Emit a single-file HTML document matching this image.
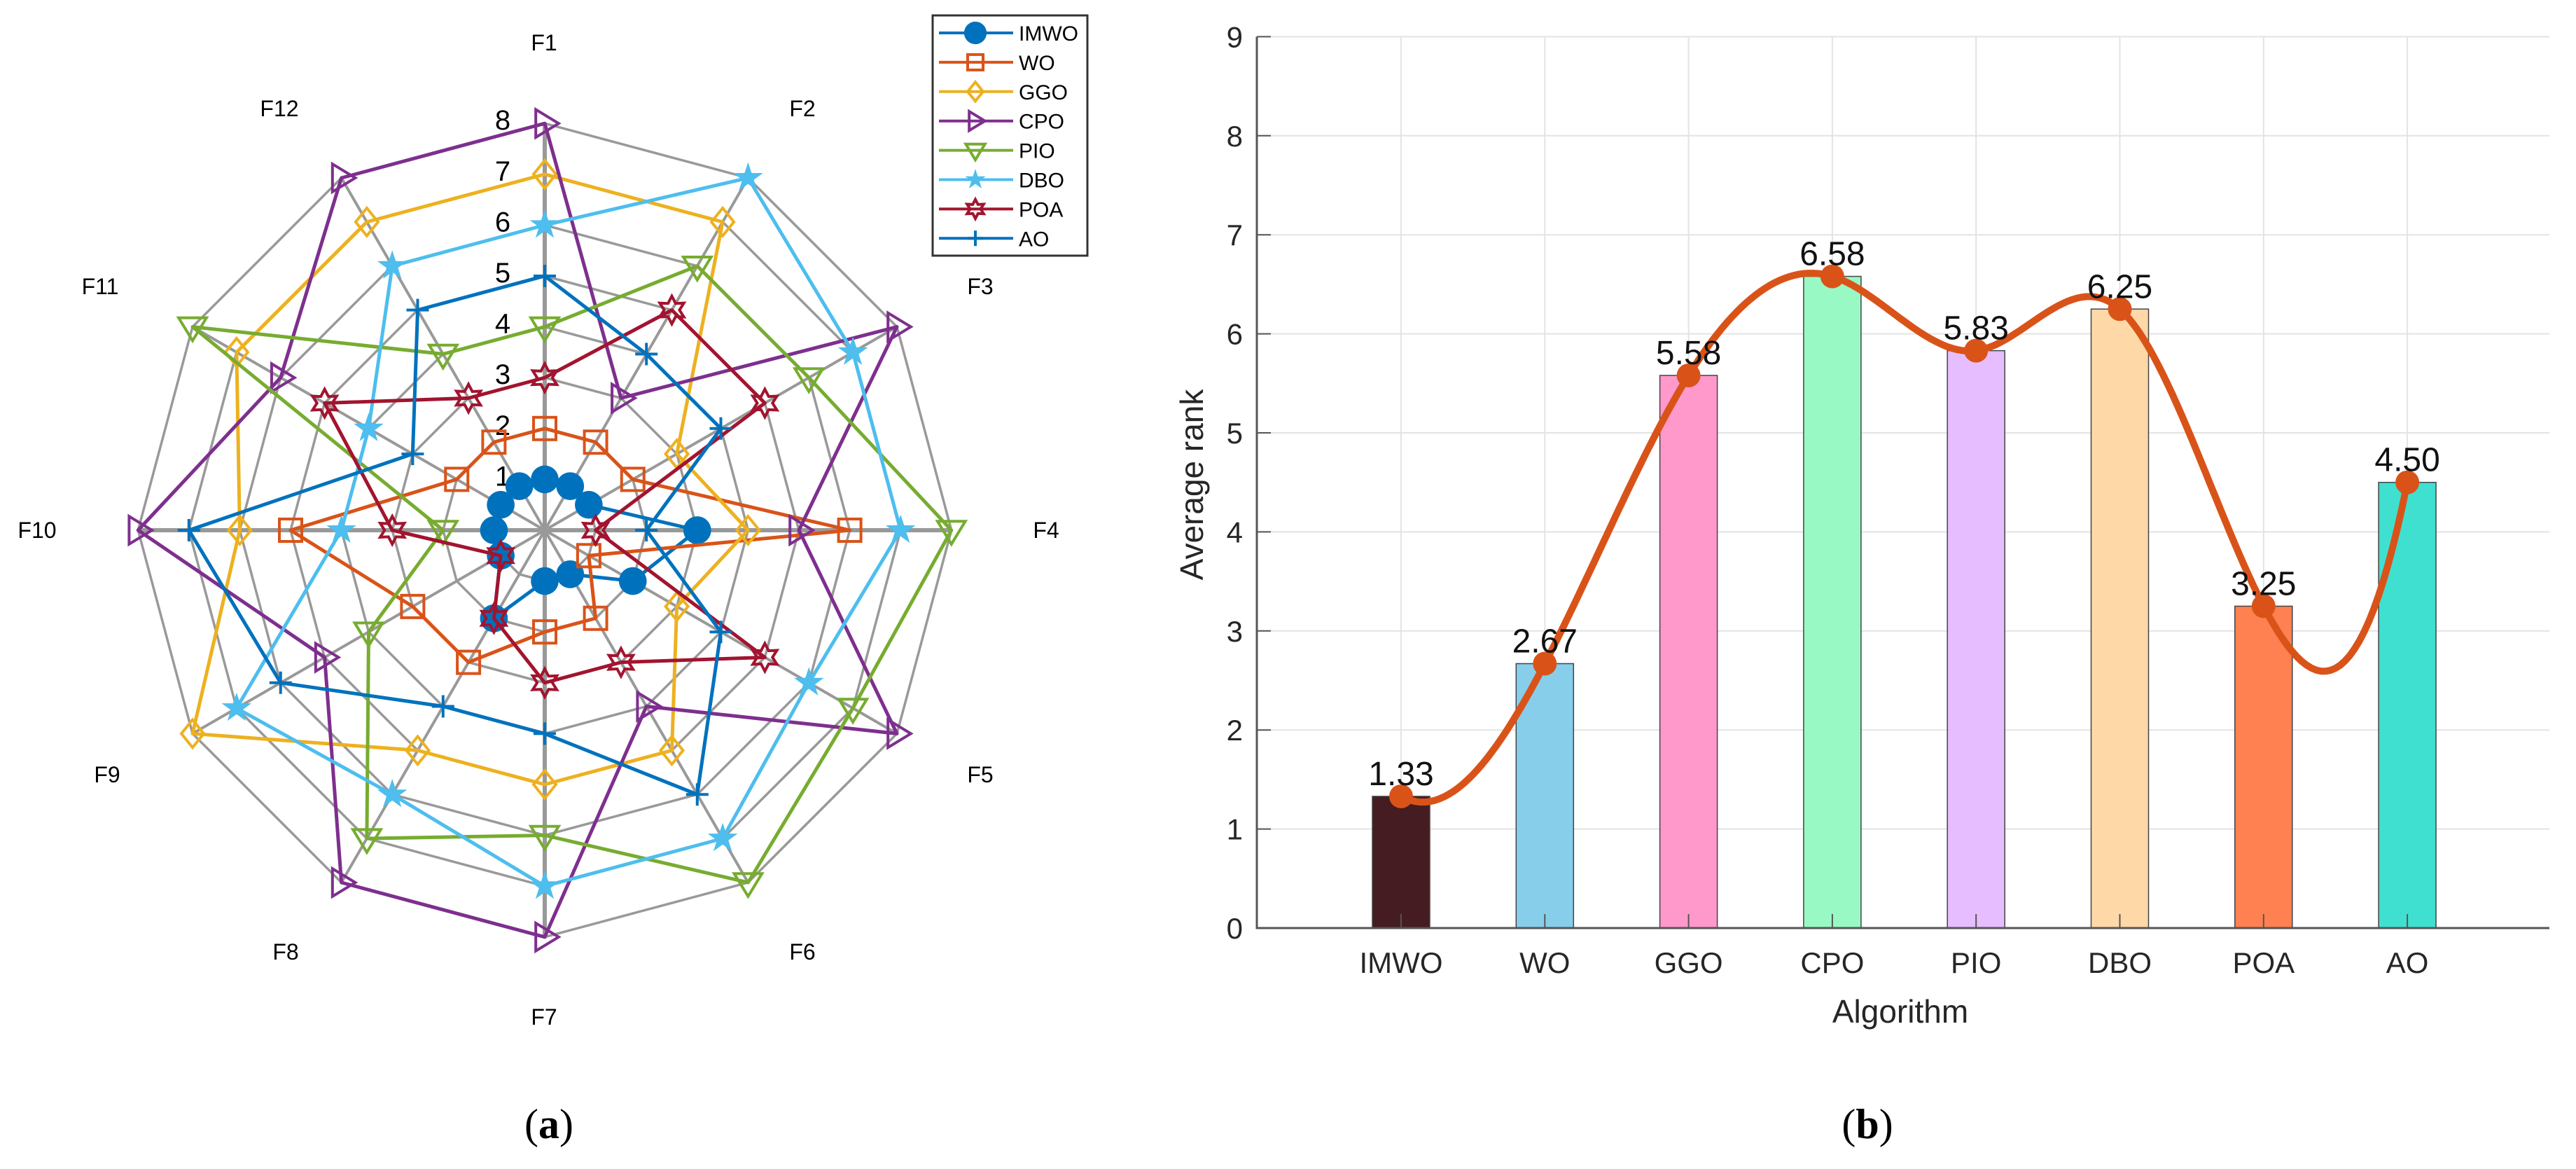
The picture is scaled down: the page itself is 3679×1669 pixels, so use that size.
<!DOCTYPE html>
<html><head><meta charset="utf-8"><style>
html,body{margin:0;padding:0;background:#fff;}
svg{display:block;font-family:"Liberation Sans",Arial,sans-serif;}
</style></head><body>
<svg id="fig" width="3679" height="1669" viewBox="0 0 3679 1669" xmlns="http://www.w3.org/2000/svg">
<g id="radar"></g>
<g id="bars"></g>
<text x="784" y="1625" font-family="Liberation Serif,serif" font-size="60" text-anchor="middle">(<tspan font-weight="bold">a</tspan>)</text>
<text x="2667" y="1625" font-family="Liberation Serif,serif" font-size="60" text-anchor="middle">(<tspan font-weight="bold">b</tspan>)</text>
</svg>
<script>
// ---- radar data ----
const funcs = ["F1","F2","F3","F4","F5","F6","F7","F8","F9","F10","F11","F12"];
const algNames = ["IMWO","WO","GGO","CPO","PIO","DBO","POA","AO"];
const rIMWO = [1,1,1,3,2,1,1,2,1,1,1,1];
const rWO   = [2,2,2,6,1,2,2,3,3,5,2,2];
const rGGO  = [7,7,3,4,3,5,5,5,8,6,7,7];
const rCPO  = [8,3,8,5,8,4,8,8,5,8,6,8];
const rPIO  = [4,6,6,8,7,8,6,7,4,2,8,4];
const rDBO  = [6,8,7,7,6,7,7,6,7,4,4,6];
const rPOA  = [3,5,5,1,5,3,3,2,1,3,5,3];
const rAO   = [5,4,4,2,4,6,4,4,6,7,3,5];
const ringTicks = ["1","2","3","4","5","6","7","8"];
// ---- bar data ----
const barCats = ["IMWO","WO","GGO","CPO","PIO","DBO","POA","AO"];
const barVals = [1.33,2.67,5.58,6.58,5.83,6.25,3.25,4.50];
const barLabels = ["1.33","2.67","5.58","6.58","5.83","6.25","3.25","4.50"];
const yTicks = [0,1,2,3,4,5,6,7,8,9];

const NS="http://www.w3.org/2000/svg";
function mk(parent,tag,attrs){const e=document.createElementNS(NS,tag);for(const k in attrs)e.setAttribute(k,attrs[k]);parent.appendChild(e);return e;}

// ===== RADAR =====
const radar=document.getElementById('radar');
const cx=778, cy=757, unit=72.6;
function pt(i,v){const a=i*Math.PI/6;return [cx+Math.sin(a)*v*unit, cy-Math.cos(a)*v*unit];}
const grid=mk(radar,'g',{});


for(let r=1;r<=8;r++){
  const p=funcs.map((f,i)=>pt(i,r).join(',')).join(' ');
  const ring=mk(grid,'polygon',{points:p,fill:'none',stroke:'#999',"stroke-width":3.5});
  
  
}
funcs.forEach((f,i)=>{
  const e=pt(i,8);
  const sp=mk(grid,'line',{x1:cx,y1:cy,x2:e[0],y2:e[1],stroke:'#999',"stroke-width":(i%3===0)?6:4});
  
  
});
const labPos=[[777,72],[1146,166],[1400,420],[1494,768],[1400,1117],[1146,1370],[777,1463],[408,1370],[153,1117],[53,768],[143,420],[399,166]];
funcs.forEach((f,i)=>{
  const t=mk(radar,'text',{x:labPos[i][0],y:labPos[i][1],"font-size":32,"text-anchor":"middle"});
  t.textContent=f;
  
  
});
ringTicks.forEach((s,k)=>{
  const v=k+1;
  const t=mk(radar,'text',{x:718,y:cy-v*unit+9,"font-size":40,"text-anchor":"middle"});
  t.textContent=s;
  
  
});
const series=[
 {n:"IMWO",d:rIMWO,c:"#0072BD",m:"circle"},
 {n:"WO",d:rWO,c:"#D95319",m:"square"},
 {n:"GGO",d:rGGO,c:"#EDB120",m:"diamond"},
 {n:"CPO",d:rCPO,c:"#7E2F8E",m:"tri-right"},
 {n:"PIO",d:rPIO,c:"#77AC30",m:"tri-down"},
 {n:"DBO",d:rDBO,c:"#4DBEEE",m:"star"},
 {n:"POA",d:rPOA,c:"#A2142F",m:"hexagram"},
 {n:"AO",d:rAO,c:"#0072BD",m:"plus"}];
function marker(g,type,x,y,c,s){
  let e;
  if(type==="circle") e=mk(g,'circle',{cx:x,cy:y,r:s*0.62,fill:c});
  else if(type==="square") e=mk(g,'rect',{x:x-s*0.5,y:y-s*0.5,width:s,height:s,fill:'none',stroke:c,"stroke-width":4});
  else if(type==="diamond") e=mk(g,'polygon',{points:`${x},${y-s*0.62} ${x+s*0.5},${y} ${x},${y+s*0.62} ${x-s*0.5},${y}`,fill:'none',stroke:c,"stroke-width":4});
  else if(type==="tri-right") e=mk(g,'polygon',{points:`${x-s*0.4},${y-s*0.62} ${x+s*0.62},${y} ${x-s*0.4},${y+s*0.62}`,fill:'none',stroke:c,"stroke-width":4});
  else if(type==="tri-down") e=mk(g,'polygon',{points:`${x-s*0.62},${y-s*0.4} ${x+s*0.62},${y-s*0.4} ${x},${y+s*0.62}`,fill:'none',stroke:c,"stroke-width":4});
  else if(type==="star"){let p=[];for(let k=0;k<10;k++){const a=k*Math.PI/5;const r=(k%2?0.27:0.7)*s;p.push((x+Math.sin(a)*r)+','+(y-Math.cos(a)*r));}e=mk(g,'polygon',{points:p.join(' '),fill:c});}
  else if(type==="hexagram"){let p=[];for(let k=0;k<12;k++){const a=k*Math.PI/6;const r=(k%2?0.34:0.62)*s;p.push((x+Math.sin(a)*r)+','+(y-Math.cos(a)*r));}e=mk(g,'polygon',{points:p.join(' '),fill:'none',stroke:c,"stroke-width":4});}
  else if(type==="plus") e=mk(g,'path',{d:`M${x-s*0.5},${y}H${x+s*0.5}M${x},${y-s*0.5}V${y+s*0.5}`,stroke:c,"stroke-width":4});
  return e;
}
series.forEach(sr=>{
  const g=mk(radar,'g',{});
  
  
  const pts=sr.d.map((v,i)=>pt(i,v));
  const poly=mk(g,'polygon',{points:pts.map(p=>p.join(',')).join(' '),fill:'none',stroke:sr.c,"stroke-width":5,"stroke-linejoin":"round"});
  
  
  pts.forEach((p,i)=>{
    const m=marker(g,sr.m,p[0],p[1],sr.c,32);
    
    
  });
});
const leg=mk(radar,'g',{});


const lb=mk(leg,'rect',{x:1332,y:22,width:221,height:343,fill:'#fff',stroke:'#333',"stroke-width":3});


series.forEach((sr,k)=>{
  const y=47+k*41.9;
  const g=mk(leg,'g',{});
  
  
  mk(g,'line',{x1:1341,y1:y,x2:1447,y2:y,stroke:sr.c,"stroke-width":4});
  marker(g,sr.m,1393,y,sr.c,sr.m==="circle"?26:22);
  const t=mk(g,'text',{x:1455,y:y+11,"font-size":30});
  t.textContent=sr.n;
});

// ===== BARS =====
const bars=document.getElementById('bars');
const x0=1795,x1=3641,y0=1325,yu=141.4,step=205.3,firstX=2001,bw=82;
const X=i=>firstX+i*step, Y=v=>y0-v*yu;
const barColors=["#451C22","#87CEEB","#FF99CC","#99F9C4","#E6BEFF","#FFD8A8","#FF8050","#40E0D0"];
const gg=mk(bars,'g',{});


yTicks.forEach(v=>{ if(v>0) mk(gg,'line',{x1:x0,y1:Y(v),x2:x1,y2:Y(v),stroke:'#e3e3e3',"stroke-width":2}); });
barCats.forEach((c,i)=>mk(gg,'line',{x1:X(i),y1:Y(9),x2:X(i),y2:y0,stroke:'#e3e3e3',"stroke-width":2}));
barCats.forEach((c,i)=>{
  const r=mk(bars,'rect',{x:X(i)-bw/2,y:Y(barVals[i]),width:bw,height:barVals[i]*yu,fill:barColors[i],stroke:'#444',"stroke-width":1.5});
  
  
  const tk=mk(bars,'line',{x1:X(i),y1:y0,x2:X(i),y2:y0-20,stroke:'#555',"stroke-width":2});
  
  
  const t=mk(bars,'text',{x:X(i),y:y0+64,"font-size":42,"text-anchor":"middle",fill:'#262626'});
  t.textContent=c;
  
  
});
const ax=mk(bars,'path',{d:`M${x0},${Y(9)}V${y0}H${x1}`,fill:'none',stroke:'#555',"stroke-width":3});


yTicks.forEach(v=>{
  const tk=mk(bars,'line',{x1:x0,y1:Y(v),x2:x0+20,y2:Y(v),stroke:'#555',"stroke-width":2});
  
  
  const t=mk(bars,'text',{x:x0-20,y:Y(v)+15,"font-size":42,"text-anchor":"end",fill:'#262626'});
  t.textContent=String(v);
  
  
});
const yl=mk(bars,'text',{x:1718,y:692,"font-size":46,"text-anchor":"middle",fill:'#262626',transform:'rotate(-90 1718 692)'});
yl.textContent="Average rank";


const xl=mk(bars,'text',{x:2714,y:1460,"font-size":46,"text-anchor":"middle",fill:'#262626'});
xl.textContent="Algorithm";


// not-a-knot cubic spline (MATLAB default)
(function(){
  const n=barVals.length, ys=barVals.slice();
  const A=[],B=[];
  for(let i=0;i<n;i++){A.push(new Array(n).fill(0));B.push(0);}
  A[0][0]=1;A[0][1]=-2;A[0][2]=1;
  A[n-1][n-3]=1;A[n-1][n-2]=-2;A[n-1][n-1]=1;
  for(let i=1;i<n-1;i++){A[i][i-1]=1;A[i][i]=4;A[i][i+1]=1;B[i]=6*(ys[i+1]-2*ys[i]+ys[i-1]);}
  for(let k=0;k<n;k++){
    let p=k;for(let r=k+1;r<n;r++)if(Math.abs(A[r][k])>Math.abs(A[p][k]))p=r;
    [A[k],A[p]]=[A[p],A[k]];[B[k],B[p]]=[B[p],B[k]];
    for(let r=k+1;r<n;r++){const f=A[r][k]/A[k][k];for(let c=k;c<n;c++)A[r][c]-=f*A[k][c];B[r]-=f*B[k];}
  }
  const M=new Array(n).fill(0);
  for(let k=n-1;k>=0;k--){let s=B[k];for(let c=k+1;c<n;c++)s-=A[k][c]*M[c];M[k]=s/A[k][k];}
  let p="";
  for(let i=0;i<n-1;i++){for(let k=0;k<=30;k++){const t=k/30;const v=(1-t)*ys[i]+t*ys[i+1]+((1-t)**3-(1-t))*M[i]/6+(t**3-t)*M[i+1]/6;p+=(p?"L":"M")+X(i+t).toFixed(1)+","+Y(v).toFixed(1);}}
  const cu=mk(bars,'path',{d:p,fill:'none',stroke:'#D95319',"stroke-width":10,"stroke-linecap":"round"});
  
  
})();
barCats.forEach((c,i)=>{
  const m=mk(bars,'circle',{cx:X(i),cy:Y(barVals[i]),r:17,fill:'#D95319'});
  
  
  const t=mk(bars,'text',{x:X(i),y:Y(barVals[i])-16,"font-size":48,"text-anchor":"middle",fill:'#111'});
  t.textContent=barLabels[i];
  
  
});
</script>
</body></html>
